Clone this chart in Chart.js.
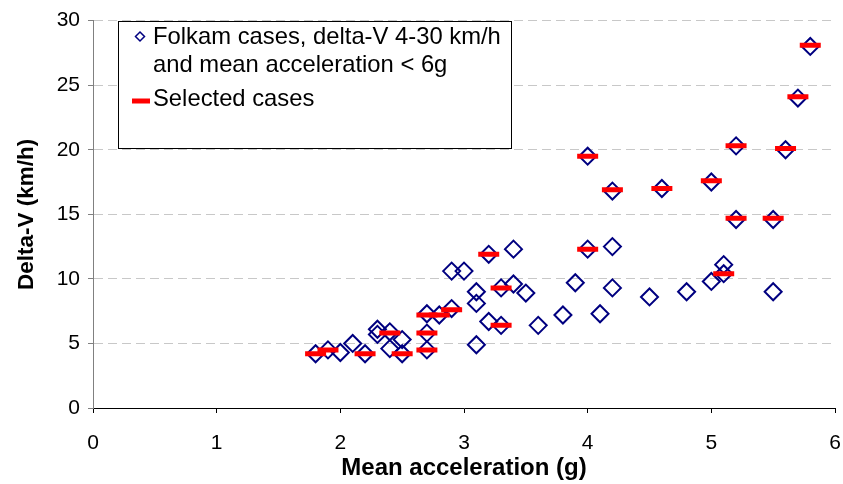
<!DOCTYPE html>
<html>
<head>
<meta charset="utf-8">
<script src="https://cdn.jsdelivr.net/npm/chart.js@4/dist/chart.umd.min.js"></script>
<style>
  body { margin: 0; background: #fff; }
</style>
</head>
<body>
<canvas id="deltaV" width="843" height="484"></canvas>
<script>
// Folkam cases, delta-V 4-30 km/h and mean acceleration < 6g
var folkamAccel = [1.8, 1.9, 2.0, 2.1, 2.2, 2.3, 2.3, 2.4, 2.4, 2.5, 2.5,
    2.7, 2.7, 2.7, 2.8, 2.9, 2.9, 3.0, 3.1, 3.1, 3.1, 3.2, 3.2, 3.3, 3.3,
    3.4, 3.4, 3.5, 3.6, 3.8, 3.9, 4.0, 4.0, 4.1, 4.2, 4.2, 4.2, 4.5, 4.6,
    4.8, 5.0, 5.0, 5.1, 5.1, 5.2, 5.2, 5.5, 5.5, 5.6, 5.7, 5.8];
var folkamDeltaV = [4.2, 4.5, 4.3, 5.0, 4.2, 6.1, 5.7, 5.9, 4.6, 5.3, 4.2,
    7.3, 5.8, 4.5, 7.2, 7.7, 10.6, 10.6, 9.0, 8.1, 4.9, 11.9, 6.7, 9.3, 6.4,
    12.3, 9.6, 8.9, 6.4, 7.2, 9.7, 19.5, 12.3, 7.3, 16.8, 12.5, 9.3, 8.6, 17.0,
    9.0, 17.5, 9.8, 11.1, 10.4, 20.3, 14.6, 14.6, 9.0, 20.0, 24.0, 28.0];

// Selected cases (red dashes)
var selectedAccel = [1.8, 1.9, 2.2, 2.4, 2.5, 2.7, 2.7, 2.7, 2.8, 2.9, 3.2, 3.3, 3.3,
    4.0, 4.0, 4.2, 4.6, 5.0, 5.1, 5.2, 5.2, 5.5, 5.6, 5.7, 5.8];
var selectedDeltaV = [4.2, 4.5, 4.2, 5.8, 4.2, 7.2, 5.8, 4.5, 7.2, 7.6, 11.9, 9.3, 6.4,
    19.5, 12.3, 16.9, 17.0, 17.6, 10.4, 20.3, 14.7, 14.7, 20.1, 24.1, 28.1];

var xTicks = [0, 1, 2, 3, 4, 5, 6];
var yTicks = [0, 5, 10, 15, 20, 25, 30];

var fontFamily = '"Liberation Sans", Arial, sans-serif';

function toPoints(xs, ys) {
    return xs.map(function (x, i) { return { x: x, y: ys[i] }; });
}

// legend box drawn inside the plot, top left
var boxLegend = {
    id: 'boxLegend',
    beforeDatasetsDraw: function (chart) {
        var ctx = chart.ctx;
        var area = chart.chartArea;
        var x0 = Math.round(area.left) + 25, y0 = Math.round(area.top);
        var ds = chart.data.datasets;
        ctx.save();
        ctx.fillStyle = '#ffffff';
        ctx.fillRect(x0, y0, 393, 127);
        ctx.strokeStyle = '#000000';
        ctx.lineWidth = 1;
        ctx.strokeRect(x0 + 0.5, y0 + 0.5, 393, 127);

        ctx.font = '23.8px ' + fontFamily;
        ctx.fillStyle = '#000000';
        ctx.textBaseline = 'middle';
        var lines = ds[1].label.split('|');
        ctx.fillText(lines[0], x0 + 35, y0 + 16);
        ctx.fillText(lines[1], x0 + 35, y0 + 44);
        ctx.fillText(ds[0].label, x0 + 35, y0 + 78);

        // diamond icon
        ctx.strokeStyle = ds[1].borderColor;
        ctx.lineWidth = 1.5;
        ctx.beginPath();
        ctx.moveTo(x0 + 22, y0 + 11);
        ctx.lineTo(x0 + 26.5, y0 + 15.5);
        ctx.lineTo(x0 + 22, y0 + 20);
        ctx.lineTo(x0 + 17.5, y0 + 15.5);
        ctx.closePath();
        ctx.stroke();

        // red dash icon
        ctx.strokeStyle = ds[0].borderColor;
        ctx.lineWidth = 5;
        ctx.beginPath();
        ctx.moveTo(x0 + 14, y0 + 80);
        ctx.lineTo(x0 + 32, y0 + 80);
        ctx.stroke();
        ctx.restore();
    }
};

var ctx = document.getElementById('deltaV').getContext('2d');
var chart = new Chart(ctx, {
    type: 'scatter',
    data: {
        datasets: [{
            label: 'Selected cases',
            data: toPoints(selectedAccel, selectedDeltaV),
            pointStyle: 'line',
            radius: 10.5,
            borderWidth: 5,
            borderColor: '#ff0000',
            backgroundColor: '#ff0000',
            order: 0
        }, {
            label: 'Folkam cases, delta-V 4-30 km/h|and mean acceleration < 6g',
            data: toPoints(folkamAccel, folkamDeltaV),
            pointStyle: 'rectRot',
            radius: 8.5,
            borderWidth: 2,
            borderColor: '#000080',
            backgroundColor: 'rgba(0,0,0,0)',
            order: 1
        }]
    },
    options: {
        responsive: false,
        animation: false,
        events: [],
        layout: { autoPadding: false, padding: { top: 18, right: 8, left: 0, bottom: 0 } },
        plugins: {
            legend: { display: false },
            tooltip: { enabled: false }
        },
        scales: {
            x: {
                type: 'linear',
                min: 0,
                max: 6,
                afterBuildTicks: function (axis) {
                    axis.ticks = xTicks.map(function (v) { return { value: v }; });
                },
                afterFit: function (axis) {
                    axis.height = 76;
                    axis.paddingRight = 0;
                },
                grid: { drawOnChartArea: false, tickLength: 5, tickColor: '#000000' },
                border: { color: '#000000', width: 1 },
                ticks: {
                    padding: 18,
                    color: '#000000',
                    font: { family: fontFamily, size: 21 }
                },
                title: {
                    display: true,
                    text: 'Mean acceleration (g)',
                    color: '#000000',
                    padding: { top: 0, bottom: 1 },
                    font: { family: fontFamily, size: 24, weight: 'bold' }
                }
            },
            y: {
                type: 'linear',
                min: 0,
                max: 30,
                afterBuildTicks: function (axis) {
                    axis.ticks = yTicks.map(function (v) { return { value: v }; });
                },
                afterFit: function (axis) { axis.width = 93; },
                grid: { color: '#c8c8c8', tickLength: 5, tickColor: '#808080' },
                border: { color: '#808080', width: 1, dash: [9, 5] },
                ticks: {
                    padding: 8,
                    color: '#000000',
                    font: { family: fontFamily, size: 21 }
                },
                title: {
                    display: true,
                    text: 'Delta-V (km/h)',
                    color: '#000000',
                    padding: { top: 13, bottom: 0 },
                    font: { family: fontFamily, size: 22.5, weight: 'bold' }
                }
            }
        }
    },
    plugins: [boxLegend]
});
</script>
</body>
</html>
